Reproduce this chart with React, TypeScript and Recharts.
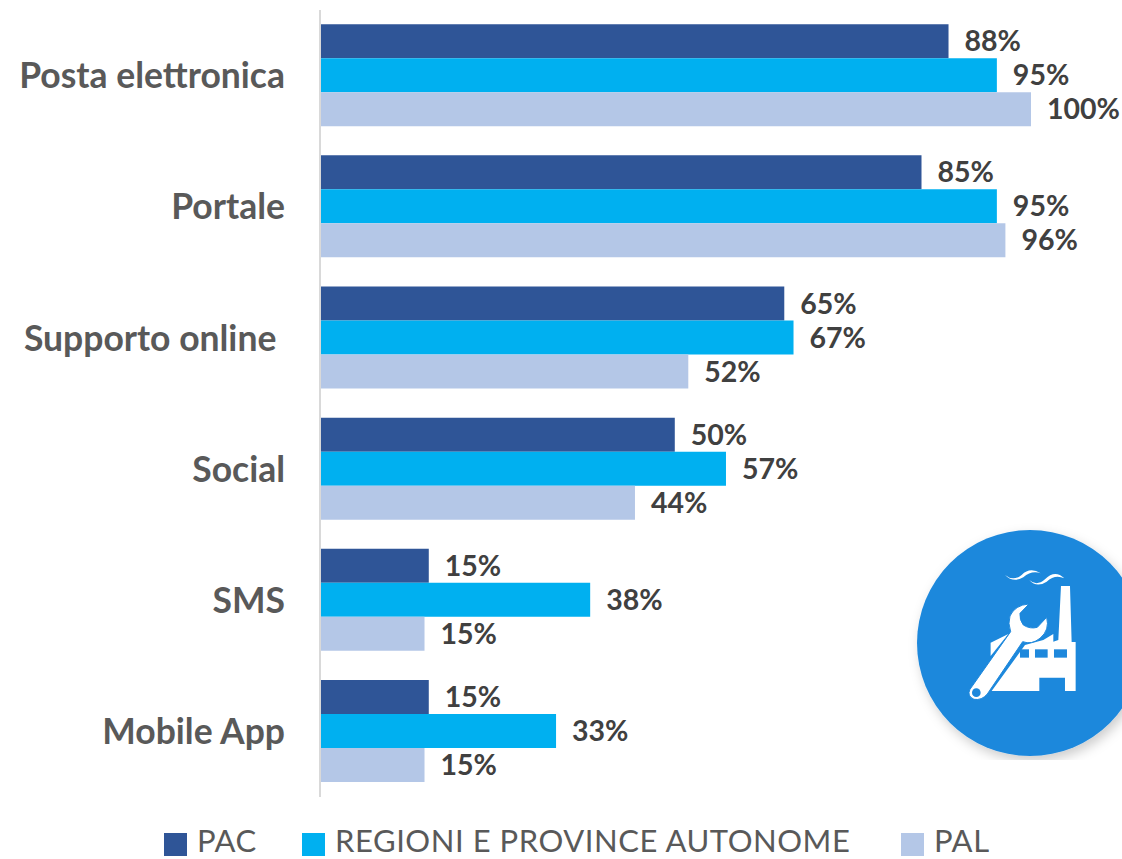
import React from "react";
import { BarChart, Bar, XAxis, YAxis, Legend, LabelList } from "recharts";

const categories = ["Posta elettronica", "Portale", "Supporto online\u00a0", "Social", "SMS", "Mobile App"];
const pac = [88.4, 84.6, 65.3, 49.9, 15.3, 15.3];
const regioni = [95.2, 95.2, 66.6, 57.1, 38.0, 33.2];
const pal = [100, 96.4, 51.8, 44.3, 14.7, 14.7];
const seriesNames = ["PAC", "REGIONI E PROVINCE AUTONOME", "PAL"];
const seriesColors = ["#2F5597", "#00B0F0", "#B4C7E7"];
const seriesKeys = ["pac", "regioni", "pal"];

const data = categories.map((name, i) => ({ name, pac: pac[i], regioni: regioni[i], pal: pal[i] }));

const FONT = "Lato, Carlito, sans-serif";
const legendLefts = [164, 302, 901];

function LegendContent() {
  return (
    <div style={{ position: "relative", width: 1122, height: 34 }}>
      {seriesNames.map((n, i) => (
        <div key={n} style={{ position: "absolute", left: legendLefts[i], top: 0, display: "flex", alignItems: "center", height: 34, whiteSpace: "nowrap" }}>
          <span style={{ display: "inline-block", width: 23, height: 23, background: seriesColors[i], marginRight: 10, position: "relative", top: 4 }} />
          <span style={{ fontFamily: FONT, fontSize: 31, letterSpacing: 0.55, lineHeight: "34px", color: "#595959" }}>{n}</span>
        </div>
      ))}
    </div>
  );
}

function Badge() {
  return (
    <svg width={1122} height={859} style={{ position: "absolute", left: 0, top: 0, pointerEvents: "none" }}>
      <defs>
        <filter id="sh" x="-20%" y="-20%" width="140%" height="140%">
          <feDropShadow dx="3" dy="5" stdDeviation="6" floodColor="#000" floodOpacity="0.2" />
        </filter>
        <clipPath id="cl"><rect x="880" y="520" width="242" height="240" /></clipPath>
      </defs>
      <g clipPath="url(#cl)">
        <circle cx={1030} cy={643} r={113} fill="#1E88DC" filter="url(#sh)" />
        <g transform="translate(880,530) scale(0.3333)" fill="#fff">
          <path d="M335 483 L478 483 L478 443 L555 443 L555 483 L587 483 L587 336 L575 336 L570 168 L543 168 L535 330 L520 335 L520 312 L490 330 L435 345 Z" />
          <path d="M332 378 L332 338 L385 312 Z" />
          <rect x="420" y="358" width="27" height="25" fill="#1E88DC" />
          <rect x="465" y="358" width="38" height="25" fill="#1E88DC" />
          <rect x="522" y="358" width="39" height="25" fill="#1E88DC" />
          <path d="M270 478 L392 305 Q383 280 390 258 Q405 225 447 222 L420 250 Q418 270 430 285 Q450 298 472 292 L500 262 Q510 300 480 325 Q455 345 428 335 L322 492 Q305 512 282 508 Q260 498 270 478 Z" stroke="#1E88DC" strokeWidth="3" />
          <circle cx="289" cy="488" r="13" fill="#1E88DC" />
          <path d="M375 135 Q400 155 425 135 Q450 110 482 130 Q455 120 430 142 Q400 160 375 135 Z" />
          <path d="M448 150 Q470 170 495 148 Q525 118 553 145 Q525 132 500 155 Q470 175 448 150 Z" />
        </g>
      </g>
    </svg>
  );
}

export default function App() {
  return (
    <div style={{ position: "absolute", left: 0, top: 0, width: 1122, height: 859, overflow: "hidden", background: "#fff" }}>
      <BarChart
        width={1122}
        height={859}
        data={data}
        layout="vertical"
        margin={{ top: 10, right: 91, bottom: 28, left: 0 }}
        barCategoryGap="10.8%"
        barGap={0}
      >
        <XAxis type="number" domain={[0, 100]} hide />
        <YAxis
          type="category"
          dataKey="name"
          width={320}
          tickLine={false}
          tickMargin={29}
          interval={0}
          axisLine={{ stroke: "#D9D9D9", strokeWidth: 2 }}
          tick={{ fontFamily: FONT, fontSize: 35.5, fontWeight: 700, fill: "#595959" }}
        />
        <Legend
          height={34}
          content={<LegendContent />}
          wrapperStyle={{ left: 0, top: 823, width: 1122 }}
        />
        {seriesKeys.map((k, i) => (
          <Bar key={k} dataKey={k} name={seriesNames[i]} fill={seriesColors[i]} isAnimationActive={false}>
            <LabelList
              dataKey={k}
              position="right"
              offset={16}
              formatter={(v: number) => `${Math.round(v)}%`}
              style={{ fontFamily: FONT, fontSize: 28.5, fontWeight: 700, fill: "#404040" }}
            />
          </Bar>
        ))}
      </BarChart>
      <Badge />
    </div>
  );
}
